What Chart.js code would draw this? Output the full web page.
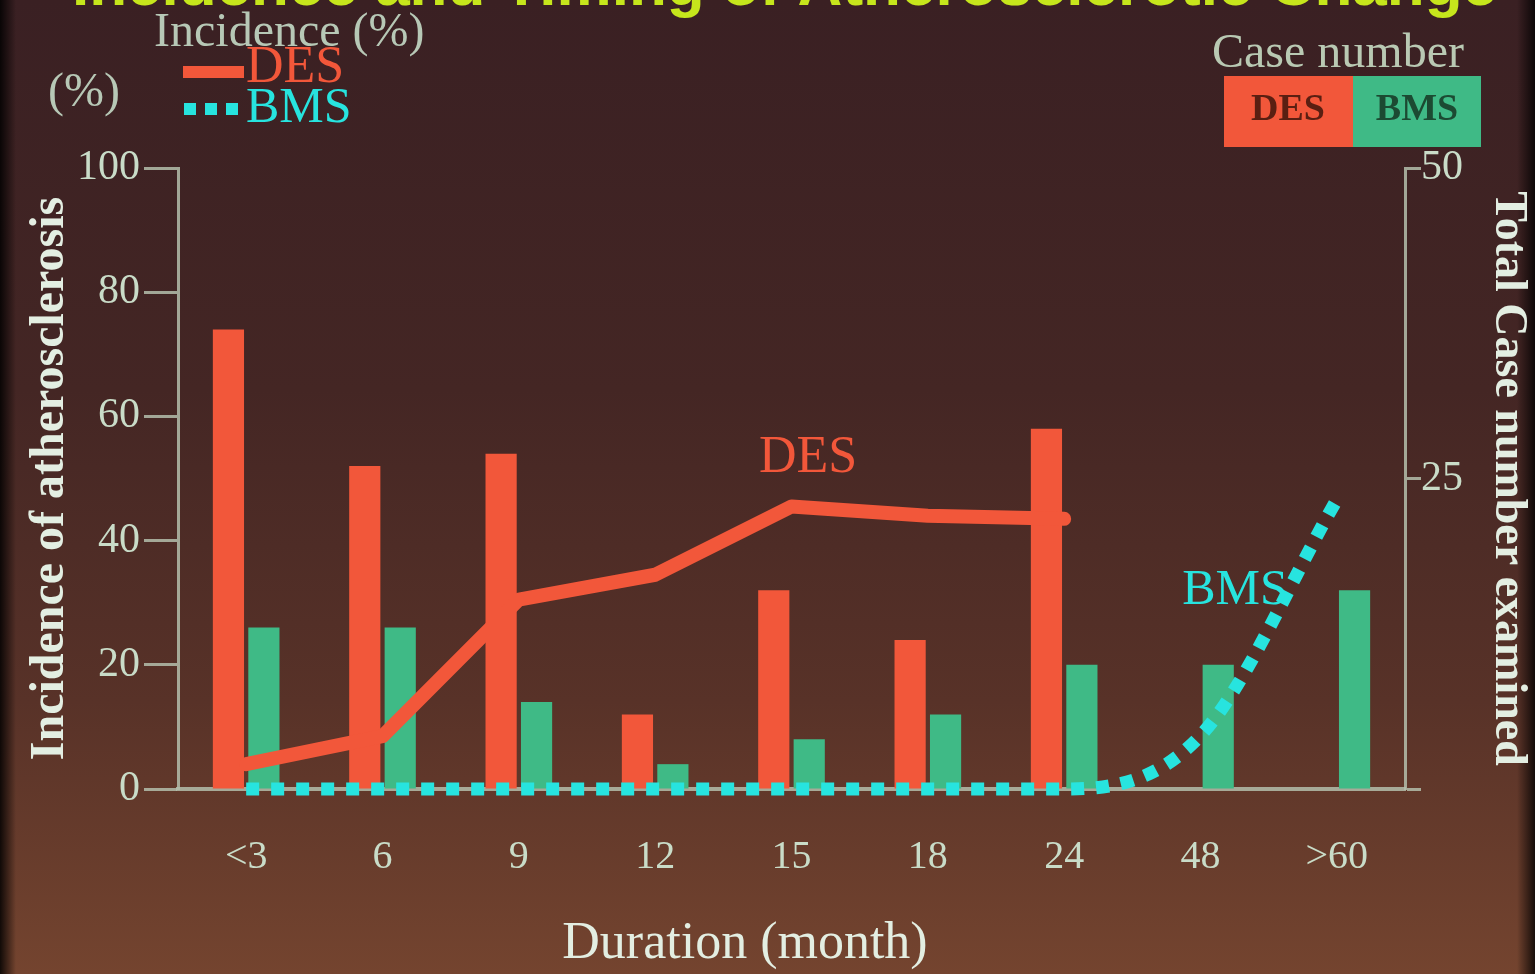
<!DOCTYPE html>
<html>
<head>
<meta charset="utf-8">
<title>Incidence and Timing of Atherosclerotic Change</title>
<script src="https://cdn.jsdelivr.net/npm/chart.js@4.4.1/dist/chart.umd.min.js"></script>
<style>
  html, body { margin: 0; padding: 0; background: #3c2223; overflow: hidden; }
  #wrap { position: relative; width: 1535px; height: 974px; }
  canvas { display: block; }
</style>
</head>
<body>
<div id="wrap"><canvas id="chart" width="1535" height="974"></canvas></div>
<script>
// Follow-up duration after stenting (months)
const categories = ['<3', '6', '9', '12', '15', '18', '24', '48', '>60'];

// Total cases examined per interval (right axis)
const desCaseNumbers = [37, 26, 27, 6, 16, 12, 29, 0, 0];
const bmsCaseNumbers = [13, 13, 7, 2, 4, 6, 10, 10, 16];

// Incidence of atherosclerosis, % (left axis)
const desIncidence = [4, 8.5, 30.5, 34.5, 45.5, 44, 43.5, null, null];
const bmsIncidence = [0, 0, 0, 0, 0, 0, 0, 8.6, 46.6];

// Axis tick labels
const incidenceTicks = [0, 20, 40, 60, 80, 100];
const caseTicks = [0, 25, 50];

const RED = '#f2573a';
const GREEN = '#3fba86';
const CYAN = '#27e4df';
const AXIS = 'rgba(180,190,172,0.85)';
const TICK_TXT = '#c9dcc8';
const TITLE_TXT = '#e3eee2';
const SERIF = '"Liberation Serif", "DejaVu Serif", serif';

// Backdrop, slide heading, legends and in-plot labels
const slideDecor = {
  id: 'slideDecor',
  beforeDraw(chart) {
    const { ctx, width, height } = chart;
    ctx.save();
    const g = ctx.createLinearGradient(0, 0, 0, height);
    g.addColorStop(0, '#3a2023');
    g.addColorStop(0.4, '#442624');
    g.addColorStop(0.72, '#583228');
    g.addColorStop(1, '#74442f');
    ctx.fillStyle = g;
    ctx.fillRect(0, 0, width, height);
    let e = ctx.createLinearGradient(0, 0, 16, 0);
    e.addColorStop(0, 'rgba(0,0,0,0.85)');
    e.addColorStop(1, 'rgba(0,0,0,0)');
    ctx.fillStyle = e;
    ctx.fillRect(0, 0, 16, height);
    e = ctx.createLinearGradient(width - 18, 0, width, 0);
    e.addColorStop(0, 'rgba(0,0,0,0)');
    e.addColorStop(1, 'rgba(0,0,0,0.8)');
    ctx.fillStyle = e;
    ctx.fillRect(width - 18, 0, 18, height);
    ctx.restore();
  },
  afterDraw(chart) {
    const { ctx } = chart;
    ctx.save();

    // Slide heading (runs off the top edge)
    ctx.font = 'bold 62px "Liberation Sans", Arial, sans-serif';
    ctx.fillStyle = '#c6e61c';
    ctx.textAlign = 'right';
    ctx.textBaseline = 'alphabetic';
    ctx.fillText('Incidence and Timing of Atherosclerotic Change', 1497, 5);

    // Incidence legend
    ctx.textAlign = 'left';
    ctx.textBaseline = 'middle';
    ctx.font = '48px ' + SERIF;
    ctx.fillStyle = '#b7c8b6';
    ctx.fillText('Incidence (%)', 154, 33);
    ctx.fillText('(%)', 48, 93);

    ctx.strokeStyle = RED;
    ctx.lineWidth = 12;
    ctx.lineCap = 'butt';
    ctx.beginPath();
    ctx.moveTo(183, 72);
    ctx.lineTo(244, 72);
    ctx.stroke();
    ctx.font = '52px ' + SERIF;
    ctx.fillStyle = RED;
    ctx.fillText('DES', 246, 68);

    ctx.fillStyle = CYAN;
    for (let i = 0; i < 3; i++) ctx.fillRect(184 + i * 21, 103, 12, 12);
    ctx.font = '50px ' + SERIF;
    ctx.fillText('BMS', 246, 109);

    // Case number legend
    ctx.font = '48px ' + SERIF;
    ctx.fillStyle = '#b9c9b3';
    ctx.fillText('Case number', 1212, 54);
    ctx.fillStyle = RED;
    ctx.fillRect(1224, 76, 129, 71);
    ctx.fillStyle = GREEN;
    ctx.fillRect(1353, 76, 128, 71);
    ctx.textAlign = 'center';
    ctx.font = 'bold 38px ' + SERIF;
    ctx.fillStyle = '#5a1f12';
    ctx.fillText('DES', 1288, 110);
    ctx.fillStyle = '#1c4a32';
    ctx.fillText('BMS', 1417, 110);

    // Series labels inside the plot
    ctx.font = '52px ' + SERIF;
    ctx.fillStyle = RED;
    ctx.fillText('DES', 808, 458);
    ctx.fillStyle = CYAN;
    ctx.font = '50px ' + SERIF;
    ctx.fillText('BMS', 1235, 591);

    // Horizontal axis title
    ctx.font = '52px ' + SERIF;
    ctx.fillStyle = TITLE_TXT;
    ctx.fillText('Duration (month)', 745, 944);

    ctx.restore();
  }
};

new Chart(document.getElementById('chart'), {
  type: 'bar',
  data: {
    labels: categories,
    datasets: [
      {
        type: 'line',
        label: 'DES incidence',
        data: desIncidence,
        yAxisID: 'y',
        borderColor: RED,
        borderWidth: 14,
        borderCapStyle: 'round',
        borderJoinStyle: 'round',
        tension: 0,
        pointRadius: 0,
        spanGaps: false,
        clip: false,
        order: 1
      },
      {
        type: 'line',
        label: 'BMS incidence',
        data: bmsIncidence,
        yAxisID: 'y',
        borderColor: CYAN,
        borderWidth: 13,
        borderDash: [13, 12],
        borderCapStyle: 'butt',
        cubicInterpolationMode: 'monotone',
        pointRadius: 0,
        clip: false,
        order: 0
      },
      {
        label: 'DES cases',
        data: desCaseNumbers,
        yAxisID: 'y2',
        backgroundColor: RED,
        borderWidth: 0,
        categoryPercentage: 0.52,
        barPercentage: 0.88,
        order: 2
      },
      {
        label: 'BMS cases',
        data: bmsCaseNumbers,
        yAxisID: 'y2',
        backgroundColor: GREEN,
        borderWidth: 0,
        categoryPercentage: 0.52,
        barPercentage: 0.88,
        order: 2
      }
    ]
  },
  options: {
    responsive: false,
    animation: false,
    devicePixelRatio: 1,
    layout: { padding: { top: 168, left: 0, right: 0, bottom: 0 } },
    plugins: {
      legend: { display: false },
      tooltip: { enabled: false },
      title: { display: false }
    },
    scales: {
      x: {
        type: 'category',
        grid: { display: false, drawTicks: false },
        border: { display: true, color: AXIS, width: 4 },
        ticks: {
          color: TICK_TXT,
          font: { family: SERIF, size: 40 },
          padding: 44,
          maxRotation: 0,
          autoSkip: false
        },
        afterFit(scale) { scale.height = 185; }
      },
      y: {
        position: 'left',
        min: 0,
        max: 100,
        afterBuildTicks(scale) { scale.ticks = incidenceTicks.map(v => ({ value: v })); },
        grid: {
          drawOnChartArea: false,
          drawTicks: true,
          tickLength: 34,
          color: AXIS,
          tickWidth: 3
        },
        border: { display: true, color: AXIS, width: 3 },
        ticks: {
          color: TICK_TXT,
          font: { family: SERIF, size: 42 },
          padding: 4
        },
        title: {
          display: true,
          text: 'Incidence of atherosclerosis',
          color: TITLE_TXT,
          font: { family: SERIF, size: 48, weight: 'bold' },
          padding: { top: 22, bottom: 0 }
        },
        afterFit(scale) { scale.width = 178; }
      },
      y2: {
        position: 'right',
        min: 0,
        max: 50,
        afterBuildTicks(scale) { scale.ticks = caseTicks.map(v => ({ value: v })); },
        grid: {
          drawOnChartArea: false,
          drawTicks: true,
          tickLength: 16,
          color: AXIS,
          tickWidth: 3
        },
        border: { display: true, color: AXIS, width: 3 },
        ticks: {
          color: TICK_TXT,
          font: { family: SERIF, size: 42 },
          padding: 0,
          callback: (v) => (v === 0 ? '' : String(v))
        },
        title: {
          display: true,
          text: 'Total Case number examined',
          color: TITLE_TXT,
          font: { family: SERIF, size: 46, weight: 'bold' },
          padding: { top: 0, bottom: 0 }
        },
        afterFit(scale) { scale.width = 130; }
      }
    }
  },
  plugins: [slideDecor]
});
</script>
</body>
</html>
